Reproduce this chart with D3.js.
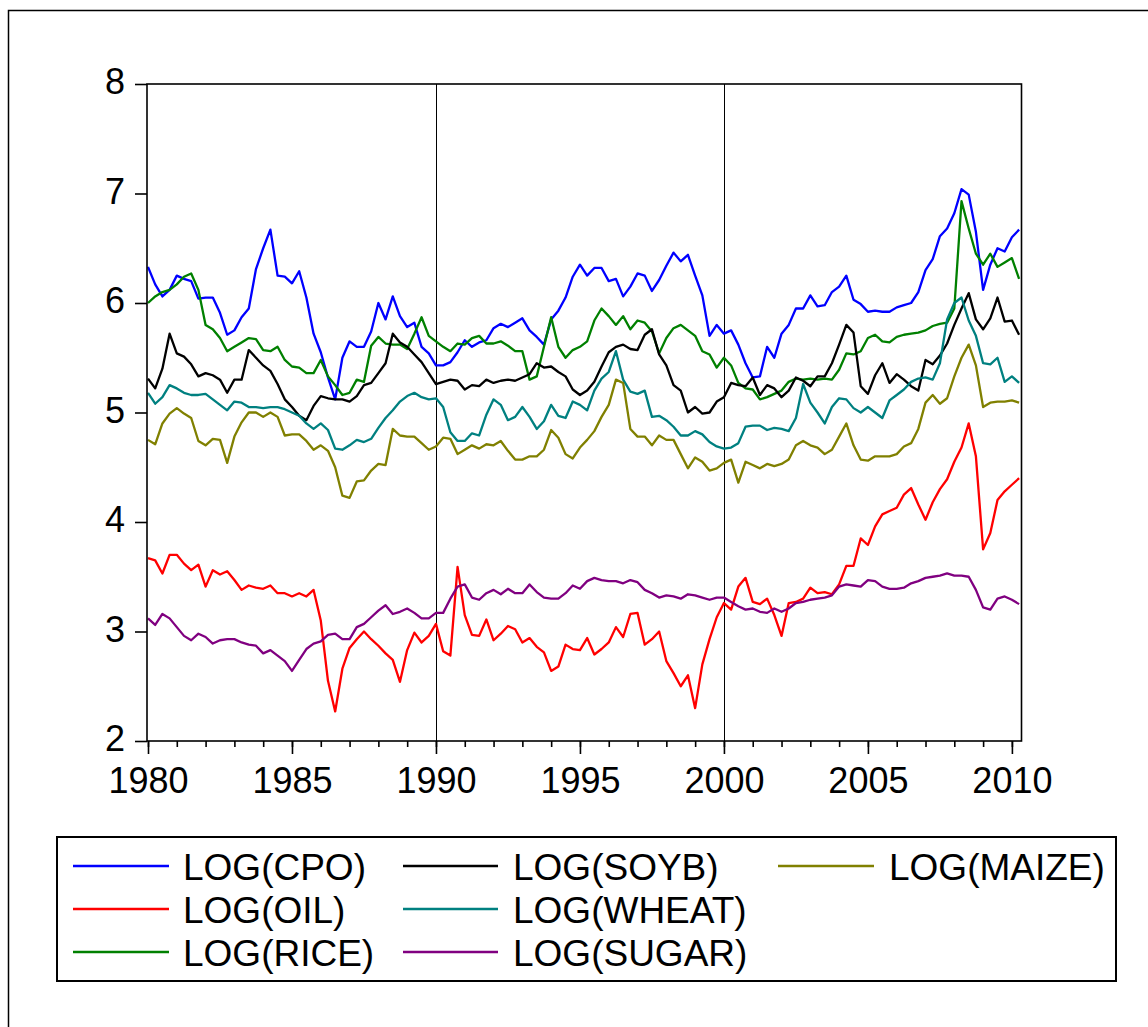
<!DOCTYPE html>
<html>
<head>
<meta charset="utf-8">
<script src="https://cdn.jsdelivr.net/npm/d3@7"></script>
<style>
  html, body { margin: 0; padding: 0; background: #fff; }
  svg { display: block; font-family: "Liberation Sans", Arial, sans-serif; }
</style>
</head>
<body>
<svg id="chart" width="1148" height="1027"></svg>
<script>
// Quarterly observations (months since 1980M01), log commodity prices 1980-2010
const months = d3.range(0, 366, 3);

const cpo = [6.33,6.17,6.06,6.12, 6.25,6.22,6.20,6.04, 6.05,6.05,5.91,5.71, 5.75,5.87,5.95,6.31,
  6.50,6.67,6.25,6.24, 6.18,6.29,6.05,5.72, 5.55,5.32,5.12,5.50, 5.65,5.60,5.60,5.74,
  6.00,5.85,6.06,5.88, 5.78,5.82,5.60,5.54, 5.43,5.43,5.46,5.55, 5.66,5.60,5.64,5.66,
  5.77,5.81,5.78,5.82, 5.86,5.75,5.69,5.62, 5.85,5.93,6.05,6.24, 6.35,6.25,6.32,6.32,
  6.20,6.22,6.06,6.15, 6.27,6.25,6.11,6.21, 6.34,6.46,6.38,6.44, 6.25,6.07,5.70,5.80,
  5.72,5.75,5.62,5.45, 5.32,5.33,5.60,5.50, 5.72,5.80,5.95,5.95, 6.07,5.97,5.98,6.10,
  6.15,6.25,6.03,5.99, 5.92,5.93,5.92,5.92, 5.96,5.98,6.00,6.10, 6.30,6.40,6.61,6.68,
  6.82,7.04,6.99,6.65, 6.12,6.35,6.50,6.47, 6.60,6.67];

const oil = [3.67,3.65,3.53,3.70, 3.70,3.62,3.56,3.61, 3.41,3.56,3.52,3.55, 3.47,3.38,3.42,3.40,
  3.39,3.42,3.35,3.35, 3.32,3.35,3.32,3.38, 3.10,2.55,2.27,2.66, 2.85,2.93,3.00,2.93,
  2.87,2.80,2.74,2.54, 2.83,2.99,2.90,2.96, 3.07,2.82,2.78,3.59, 3.15,2.97,2.96,3.11,
  2.92,2.98,3.05,3.02, 2.90,2.94,2.86,2.81, 2.64,2.68,2.88,2.84, 2.83,2.94,2.79,2.84,
  2.90,3.04,2.95,3.16, 3.17,2.88,2.93,3.00, 2.73,2.62,2.50,2.60, 2.30,2.70,2.93,3.13,
  3.26,3.20,3.41,3.49, 3.27,3.25,3.30,3.15, 2.96,3.26,3.27,3.30, 3.40,3.35,3.36,3.34,
  3.43,3.60,3.60,3.85, 3.79,3.96,4.07,4.10, 4.13,4.25,4.31,4.16, 4.02,4.18,4.30,4.39,
  4.55,4.68,4.90,4.60, 3.75,3.90,4.20,4.28, 4.34,4.40];

const rice = [6.00,6.06,6.10,6.12, 6.17,6.24,6.27,6.12, 5.80,5.76,5.68,5.56, 5.60,5.64,5.68,5.67,
  5.57,5.56,5.60,5.48, 5.42,5.41,5.36,5.36, 5.48,5.33,5.25,5.16, 5.18,5.30,5.28,5.61,
  5.69,5.63,5.62,5.62, 5.58,5.72,5.87,5.70, 5.65,5.60,5.56,5.63, 5.62,5.68,5.70,5.63,
  5.63,5.65,5.61,5.56, 5.56,5.30,5.33,5.60, 5.87,5.60,5.50,5.57, 5.60,5.65,5.84,5.95,
  5.88,5.80,5.88,5.76, 5.84,5.82,5.74,5.54, 5.68,5.77,5.80,5.75, 5.70,5.56,5.53,5.41,
  5.50,5.43,5.27,5.22, 5.21,5.12,5.14,5.17, 5.20,5.28,5.31,5.30, 5.31,5.30,5.31,5.30,
  5.39,5.54,5.53,5.56, 5.68,5.71,5.65,5.64, 5.69,5.71,5.72,5.73, 5.75,5.79,5.81,5.82,
  5.95,6.93,6.68,6.45, 6.35,6.45,6.33,6.37, 6.41,6.22];

const soyb = [5.31,5.22,5.40,5.72, 5.54,5.51,5.44,5.33, 5.36,5.34,5.30,5.18, 5.30,5.30,5.57,5.50,
  5.43,5.38,5.26,5.12, 5.05,4.97,4.93,5.06, 5.15,5.13,5.12,5.12, 5.10,5.15,5.25,5.27,
  5.36,5.45,5.72,5.64, 5.60,5.53,5.46,5.36, 5.26,5.28,5.30,5.29, 5.21,5.25,5.24,5.30,
  5.27,5.29,5.30,5.29, 5.32,5.35,5.45,5.41, 5.42,5.37,5.33,5.21, 5.16,5.20,5.28,5.42,
  5.55,5.60,5.62,5.58, 5.57,5.71,5.76,5.53, 5.43,5.25,5.20,5.00, 5.05,4.99,5.00,5.10,
  5.14,5.27,5.25,5.24, 5.32,5.16,5.25,5.22, 5.14,5.20,5.32,5.29, 5.24,5.33,5.33,5.45,
  5.62,5.80,5.73,5.24, 5.17,5.34,5.45,5.27, 5.35,5.30,5.24,5.20, 5.48,5.44,5.52,5.63,
  5.80,5.95,6.09,5.85, 5.76,5.86,6.05,5.83, 5.84,5.71];

const wheat = [5.18,5.08,5.14,5.25, 5.22,5.18,5.16,5.16, 5.17,5.12,5.07,5.02, 5.10,5.09,5.05,5.05,
  5.04,5.05,5.05,5.03, 5.00,4.97,4.90,4.85, 4.90,4.84,4.67,4.66, 4.70,4.75,4.73,4.76,
  4.86,4.95,5.02,5.10, 5.15,5.18,5.14,5.12, 5.13,5.05,4.82,4.74, 4.74,4.81,4.79,4.98,
  5.12,5.07,4.93,4.96, 5.05,4.96,4.85,4.92, 5.07,4.97,4.95,5.10, 5.07,5.02,5.20,5.31,
  5.37,5.56,5.30,5.19, 5.17,5.20,4.96,4.97, 4.93,4.87,4.79,4.79, 4.83,4.80,4.73,4.69,
  4.67,4.68,4.72,4.87, 4.88,4.88,4.84,4.86, 4.85,4.83,4.95,5.26, 5.09,5.00,4.90,5.05,
  5.13,5.12,5.04,5.00, 5.05,5.00,4.95,5.11, 5.16,5.21,5.28,5.31, 5.32,5.30,5.45,5.85,
  6.00,6.05,5.84,5.70, 5.45,5.44,5.50,5.28, 5.33,5.27];

const sugar = [3.12,3.06,3.16,3.12, 3.04,2.96,2.92,2.98, 2.95,2.89,2.92,2.93, 2.93,2.90,2.88,2.87,
  2.80,2.83,2.78,2.73, 2.64,2.74,2.84,2.89, 2.91,2.97,2.98,2.93, 2.93,3.04,3.07,3.13,
  3.19,3.24,3.16,3.18, 3.21,3.17,3.12,3.12, 3.17,3.17,3.30,3.41, 3.43,3.31,3.29,3.35,
  3.38,3.34,3.39,3.35, 3.35,3.43,3.36,3.31, 3.30,3.30,3.35,3.42, 3.39,3.46,3.49,3.47,
  3.46,3.46,3.44,3.47, 3.45,3.38,3.35,3.31, 3.33,3.32,3.30,3.34, 3.33,3.31,3.29,3.31,
  3.31,3.27,3.23,3.20, 3.21,3.18,3.17,3.21, 3.18,3.21,3.26,3.27, 3.29,3.30,3.31,3.33,
  3.41,3.43,3.42,3.41, 3.47,3.46,3.41,3.39, 3.39,3.40,3.44,3.46, 3.49,3.50,3.51,3.53,
  3.51,3.51,3.50,3.38, 3.22,3.20,3.30,3.32, 3.29,3.25];

const maize = [4.75,4.71,4.90,4.99, 5.04,4.99,4.95,4.74, 4.70,4.76,4.75,4.54, 4.78,4.91,5.00,5.00,
  4.96,5.00,4.96,4.79, 4.80,4.80,4.74,4.66, 4.70,4.65,4.50,4.24, 4.22,4.37,4.38,4.47,
  4.53,4.52,4.85,4.79, 4.78,4.78,4.72,4.66, 4.69,4.77,4.76,4.62, 4.66,4.70,4.67,4.71,
  4.70,4.74,4.65,4.57, 4.57,4.60,4.60,4.66, 4.84,4.77,4.62,4.58, 4.68,4.75,4.83,4.96,
  5.07,5.30,5.27,4.85, 4.78,4.78,4.70,4.79, 4.75,4.75,4.62,4.49, 4.59,4.55,4.47,4.49,
  4.54,4.57,4.36,4.55, 4.52,4.49,4.53,4.51, 4.53,4.57,4.70,4.74, 4.70,4.68,4.62,4.66,
  4.78,4.90,4.70,4.57, 4.56,4.60,4.60,4.60, 4.62,4.69,4.72,4.85, 5.09,5.16,5.08,5.13,
  5.33,5.50,5.62,5.43, 5.05,5.09,5.10,5.10, 5.11,5.09];

const seriesNames = ["LOG(CPO)", "LOG(OIL)", "LOG(RICE)", "LOG(SOYB)", "LOG(WHEAT)", "LOG(SUGAR)", "LOG(MAIZE)"];
const seriesColors = ["#0000ff", "#ff0000", "#008000", "#000000", "#008080", "#800080", "#808000"];
const seriesValues = [cpo, oil, rice, soyb, wheat, sugar, maize];

const yTicks = [2, 3, 4, 5, 6, 7, 8];
const yearLabels = ["1980", "1985", "1990", "1995", "2000", "2005", "2010"];
const markerYears = [1990, 2000];

// ---- layout ----
const svg = d3.select("#chart");
const plot = { left: 148, top: 84, right: 1021.5, bottom: 741 };

const x = d3.scaleLinear().domain([0, 364]).range([plot.left, plot.right]);
const y = d3.scaleLinear().domain([2, 8]).range([plot.bottom, plot.top]);
const monthOf = yr => (yr - 1980) * 12;

// outer frame (extends past the right and bottom edges of the page)
svg.append("rect")
  .attr("x", 8.5).attr("y", 10.5).attr("width", 1300).attr("height", 1200)
  .attr("fill", "none").attr("stroke", "#000").attr("stroke-width", 1.5);

svg.append("clipPath").attr("id", "plotClip")
  .append("rect")
  .attr("x", plot.left - 1).attr("y", plot.top)
  .attr("width", plot.right - plot.left + 1).attr("height", plot.bottom - plot.top);

// vertical marker lines
svg.append("g").selectAll("line").data(markerYears).join("line")
  .attr("x1", d => Math.round(x(monthOf(d))) + 0.5)
  .attr("x2", d => Math.round(x(monthOf(d))) + 0.5)
  .attr("y1", plot.top).attr("y2", plot.bottom)
  .attr("stroke", "#000").attr("stroke-width", 1)
  .attr("shape-rendering", "crispEdges");

// series
const line = d3.line()
  .x((d, i) => x(months[i]))
  .y(d => y(d));

svg.append("g").attr("clip-path", "url(#plotClip)")
  .selectAll("path").data(seriesValues).join("path")
  .attr("d", d => line(d))
  .attr("fill", "none")
  .attr("stroke", (d, i) => seriesColors[i])
  .attr("stroke-width", 2.3)
  .attr("stroke-linejoin", "round");

// plot frame
svg.append("rect")
  .attr("x", plot.left - 1).attr("y", plot.top)
  .attr("width", plot.right - plot.left + 1).attr("height", plot.bottom - plot.top)
  .attr("fill", "none").attr("stroke", "#000").attr("stroke-width", 1.6);

// y axis
const yAxis = svg.append("g")
  .attr("transform", `translate(${plot.left - 1},0)`)
  .call(d3.axisLeft(y).tickValues(yTicks).tickFormat(d3.format("d"))
    .tickSize(12).tickSizeOuter(0).tickPadding(10));
yAxis.select(".domain").remove();
yAxis.selectAll(".tick line").attr("stroke", "#000").attr("stroke-width", 1.6);
yAxis.selectAll(".tick text")
  .attr("font-size", 36).attr("fill", "#000").attr("dy", "0.27em")
  .style("font-family", '"Liberation Sans", Arial, sans-serif');

// x axis: yearly minor ticks, 5-year major ticks with labels
const minorAxis = svg.append("g")
  .attr("transform", `translate(0,${plot.bottom})`)
  .call(d3.axisBottom(x).tickValues(d3.range(1980, 2011).map(monthOf))
    .tickSize(6).tickSizeOuter(0).tickFormat(""));
minorAxis.select(".domain").remove();
minorAxis.selectAll(".tick line").attr("stroke", "#000").attr("stroke-width", 1.6);

const majorAxis = svg.append("g")
  .attr("transform", `translate(0,${plot.bottom})`)
  .call(d3.axisBottom(x).tickValues(yearLabels.map(s => monthOf(+s)))
    .tickSize(13).tickSizeOuter(0).tickPadding(13)
    .tickFormat((d, i) => yearLabels[i]));
majorAxis.select(".domain").remove();
majorAxis.selectAll(".tick line").attr("stroke", "#000").attr("stroke-width", 1.6);
majorAxis.selectAll(".tick text")
  .attr("font-size", 36).attr("fill", "#000")
  .style("font-family", '"Liberation Sans", Arial, sans-serif');

// legend
const legendBox = { x: 57, y: 837, w: 1059, h: 144 };
svg.append("rect")
  .attr("x", legendBox.x).attr("y", legendBox.y)
  .attr("width", legendBox.w).attr("height", legendBox.h)
  .attr("fill", "#fff").attr("stroke", "#000").attr("stroke-width", 2);

const legendCols = [
  { x1: 73, x2: 169, tx: 183 },
  { x1: 403, x2: 498, tx: 513 },
  { x1: 778, x2: 874, tx: 889 }
];
const legendRows = [866, 909, 952];

const items = seriesNames.map((name, i) => ({
  name, color: seriesColors[i],
  col: legendCols[Math.floor(i / 3)], row: legendRows[i % 3]
}));

const leg = svg.append("g").selectAll("g").data(items).join("g");
leg.append("line")
  .attr("x1", d => d.col.x1).attr("x2", d => d.col.x2)
  .attr("y1", d => d.row).attr("y2", d => d.row)
  .attr("stroke", d => d.color).attr("stroke-width", 2.5);
leg.append("text")
  .attr("x", d => d.col.tx).attr("y", d => d.row + 13.5)
  .attr("font-size", 37).attr("fill", "#000")
  .text(d => d.name);
</script>
</body>
</html>
